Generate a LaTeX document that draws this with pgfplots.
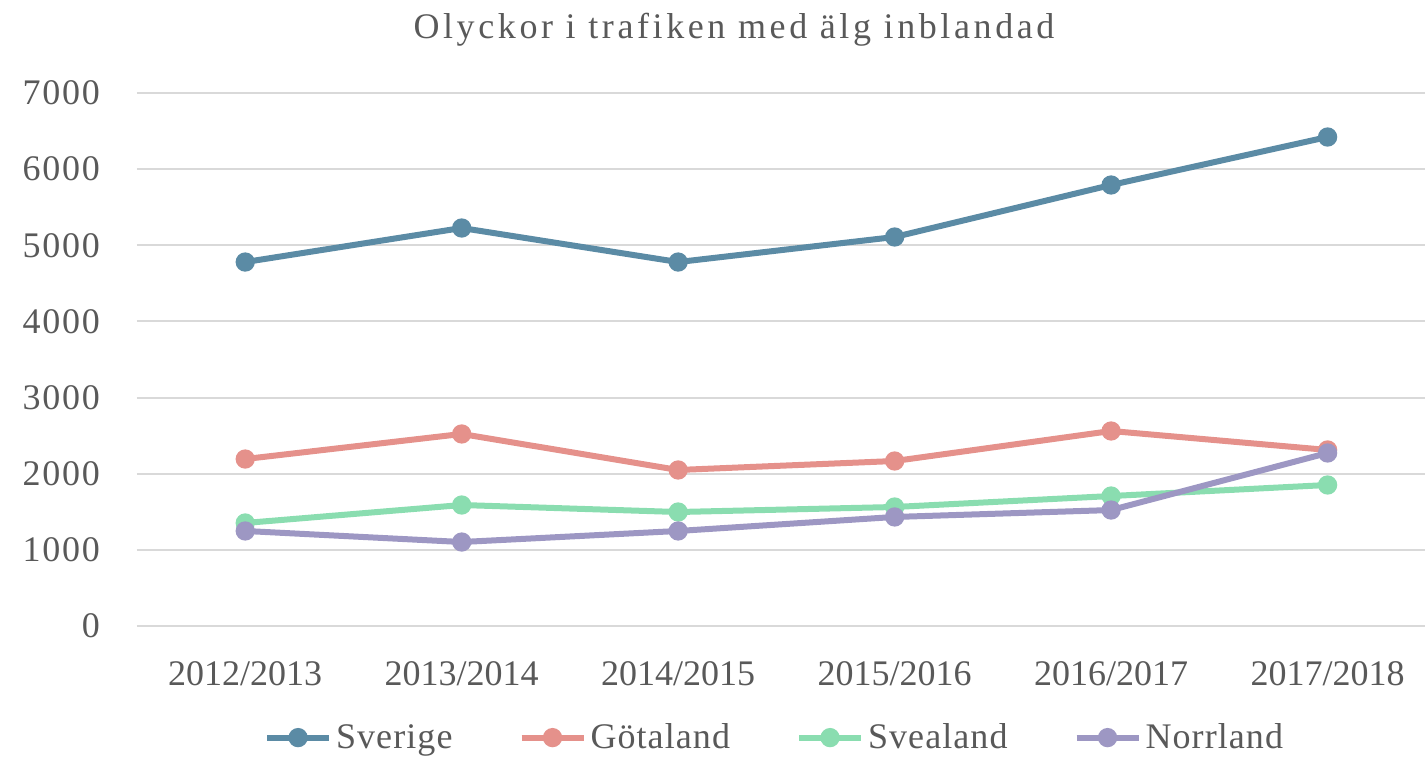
\documentclass[border=0pt]{standalone}
\usepackage{fontspec}
\setmainfont{Liberation Serif}
\usepackage{pgfplots}
\pgfplotsset{compat=1.18}
\definecolor{txt}{HTML}{595959}
\definecolor{gridc}{HTML}{D9D9D9}
\definecolor{cSve}{HTML}{5B8BA5}
\definecolor{cGot}{HTML}{E5918B}
\definecolor{cSvea}{HTML}{8ADDB0}
\definecolor{cNor}{HTML}{9D97C3}
\begin{document}
\begin{tikzpicture}
\useasboundingbox (-68.5pt,-67.5pt) rectangle (644pt,313pt);
\begin{axis}[
  at={(0,0)}, anchor=south west,
  scale only axis, width=644pt, height=266.5pt,
  xmin=-0.5, xmax=5.45, ymin=0, ymax=7000,
  xtick={0,1,2,3,4,5},
  xticklabels={2012/2013,2013/2014,2014/2015,2015/2016,2016/2017,2017/2018},
  ytick={0,1000,...,7000},
  /pgf/number format/assume math mode=true,
  /pgf/number format/1000 sep={},
  xmajorgrids=false, ymajorgrids=true,
  y grid style={draw=gridc, line width=1pt},
  axis line style={draw=none},
  major tick length=0pt,
  tick label style={font=\fontsize{18}{20}\selectfont, text=txt},
  yticklabel style={xshift=-15pt, font=\fontsize{18}{20}\selectfont\addfontfeature{LetterSpace=5}},
  xticklabel style={yshift=-14pt},
  clip=false,
  title={Olyckor i trafiken med älg inblandad},
  title style={at={(0.4635,1)}, font=\fontsize{18}{20}\selectfont\addfontfeature{LetterSpace=10}, text=txt, yshift=14pt},
  legend columns=4,
  legend style={at={(0.4958,-67pt)}, anchor=south, draw=none, font=\fontsize{18}{20}\selectfont\addfontfeature{LetterSpace=3}, text=txt,
    /tikz/every even column/.append style={column sep=31pt}},
  legend image code/.code={\draw[#1] (0pt,0pt) -- (31pt,0pt); \fill[#1] (15.5pt,0pt) circle (3.3pt);},
  every axis plot/.append style={line width=3pt, mark=*, mark size=3.3pt},
]
\addplot[cSve, mark options={fill=cSve}] coordinates {(0,4780)(1,5227)(2,4780)(3,5109)(4,5792)(5,6422)};
\addlegendentry{Sverige}
\addplot[cGot, mark options={fill=cGot}] coordinates {(0,2193)(1,2522)(2,2049)(3,2167)(4,2561)(5,2312)};
\addlegendentry{Götaland}
\addplot[cSvea, mark options={fill=cSvea}] coordinates {(0,1353)(1,1589)(2,1497)(3,1563)(4,1707)(5,1852)};
\addlegendentry{Svealand}
\addplot[cNor, mark options={fill=cNor}] coordinates {(0,1248)(1,1103)(2,1248)(3,1432)(4,1523)(5,2272)};
\addlegendentry{Norrland}
\end{axis}
\end{tikzpicture}
\end{document}
